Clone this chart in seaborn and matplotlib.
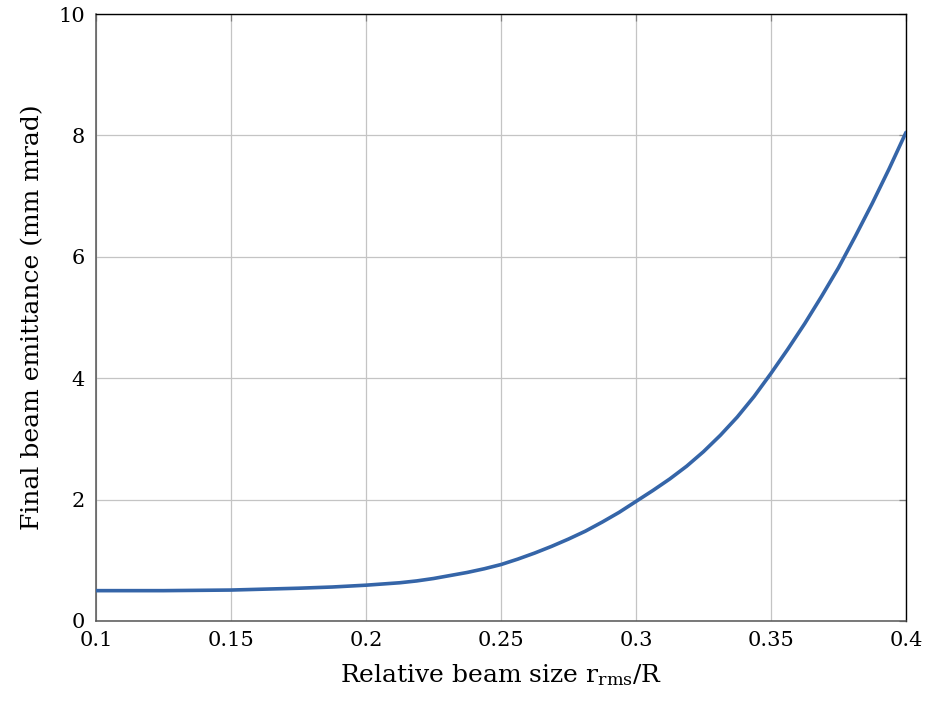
import matplotlib
matplotlib.use("Agg")
import matplotlib.pyplot as plt
import seaborn as sns
import pandas as pd

# Relative beam size r_rms/R and resulting final emittance (mm mrad)
beam_size = [0.100, 0.125, 0.150, 0.175, 0.1875, 0.200, 0.20625, 0.2125,
             0.21875, 0.225, 0.23125, 0.2375, 0.24375, 0.250, 0.25625,
             0.2625, 0.26875, 0.275, 0.28125, 0.2875, 0.29375, 0.300,
             0.30625, 0.3125, 0.31875, 0.325, 0.33125, 0.3375, 0.34375,
             0.350, 0.35625, 0.3625, 0.36875, 0.375, 0.38125, 0.3875,
             0.39375, 0.400]
emittance = [0.50, 0.50, 0.51, 0.54, 0.56, 0.59, 0.61, 0.63,
             0.66, 0.70, 0.75, 0.80, 0.86, 0.93, 1.02,
             1.12, 1.23, 1.35, 1.48, 1.63, 1.79, 1.97,
             2.15, 2.34, 2.55, 2.79, 3.06, 3.36, 3.70,
             4.08, 4.48, 4.90, 5.35, 5.82, 6.34, 6.88,
             7.45, 8.05]

x_ticks = [0.1, 0.15, 0.2, 0.25, 0.3, 0.35, 0.4]
x_tick_labels = ["0.1", "0.15", "0.2", "0.25", "0.3", "0.35", "0.4"]
y_ticks = [0, 2, 4, 6, 8, 10]
y_tick_labels = ["0", "2", "4", "6", "8", "10"]

sns.set_theme(style="white")
plt.rcParams["font.family"] = ["DejaVu Serif"]
plt.rcParams["mathtext.fontset"] = "custom"
plt.rcParams["mathtext.rm"] = "DejaVu Serif"
plt.rcParams["mathtext.it"] = "DejaVu Serif:italic"
plt.rcParams["text.color"] = "black"
plt.rcParams["axes.labelcolor"] = "black"

df = pd.DataFrame({"size": beam_size, "emit": emittance})

fig = plt.figure(figsize=(9.27, 7.02), dpi=100)
ax = fig.add_axes([96 / 927, 1 - 621 / 702, 810 / 927, 607 / 702])

sns.lineplot(data=df, x="size", y="emit", ax=ax, color="#3565a8",
             linewidth=2.6, zorder=3)

ax.set_xlim(0.1, 0.4)
ax.set_ylim(0, 10)
ax.set_xticks(x_ticks)
ax.set_xticklabels(x_tick_labels)
ax.set_yticks(y_ticks)
ax.set_yticklabels(y_tick_labels)

ax.grid(True, color="#c4c4c4", linewidth=0.9)
ax.set_axisbelow(True)

ax.tick_params(axis="both", which="major", direction="in", length=5,
               width=0.9, color="#808080", labelsize=15, labelcolor="black",
               top=True, right=True)
ax.tick_params(axis="x", pad=7)
ax.tick_params(axis="y", pad=8)

for side in ["top", "right"]:
    ax.spines[side].set_color("black")
    ax.spines[side].set_linewidth(1.0)
for side in ["left", "bottom"]:
    ax.spines[side].set_color("#555555")
    ax.spines[side].set_linewidth(1.1)

ax.set_xlabel(r"Relative beam size $\mathrm{r}_{\mathrm{rms}}/\mathrm{R}$",
              fontsize=18, labelpad=9, color="black")
ax.set_ylabel("Final beam emittance (mm mrad)", fontsize=18, labelpad=10,
              color="black")

fig.savefig("out.png", dpi=100)
